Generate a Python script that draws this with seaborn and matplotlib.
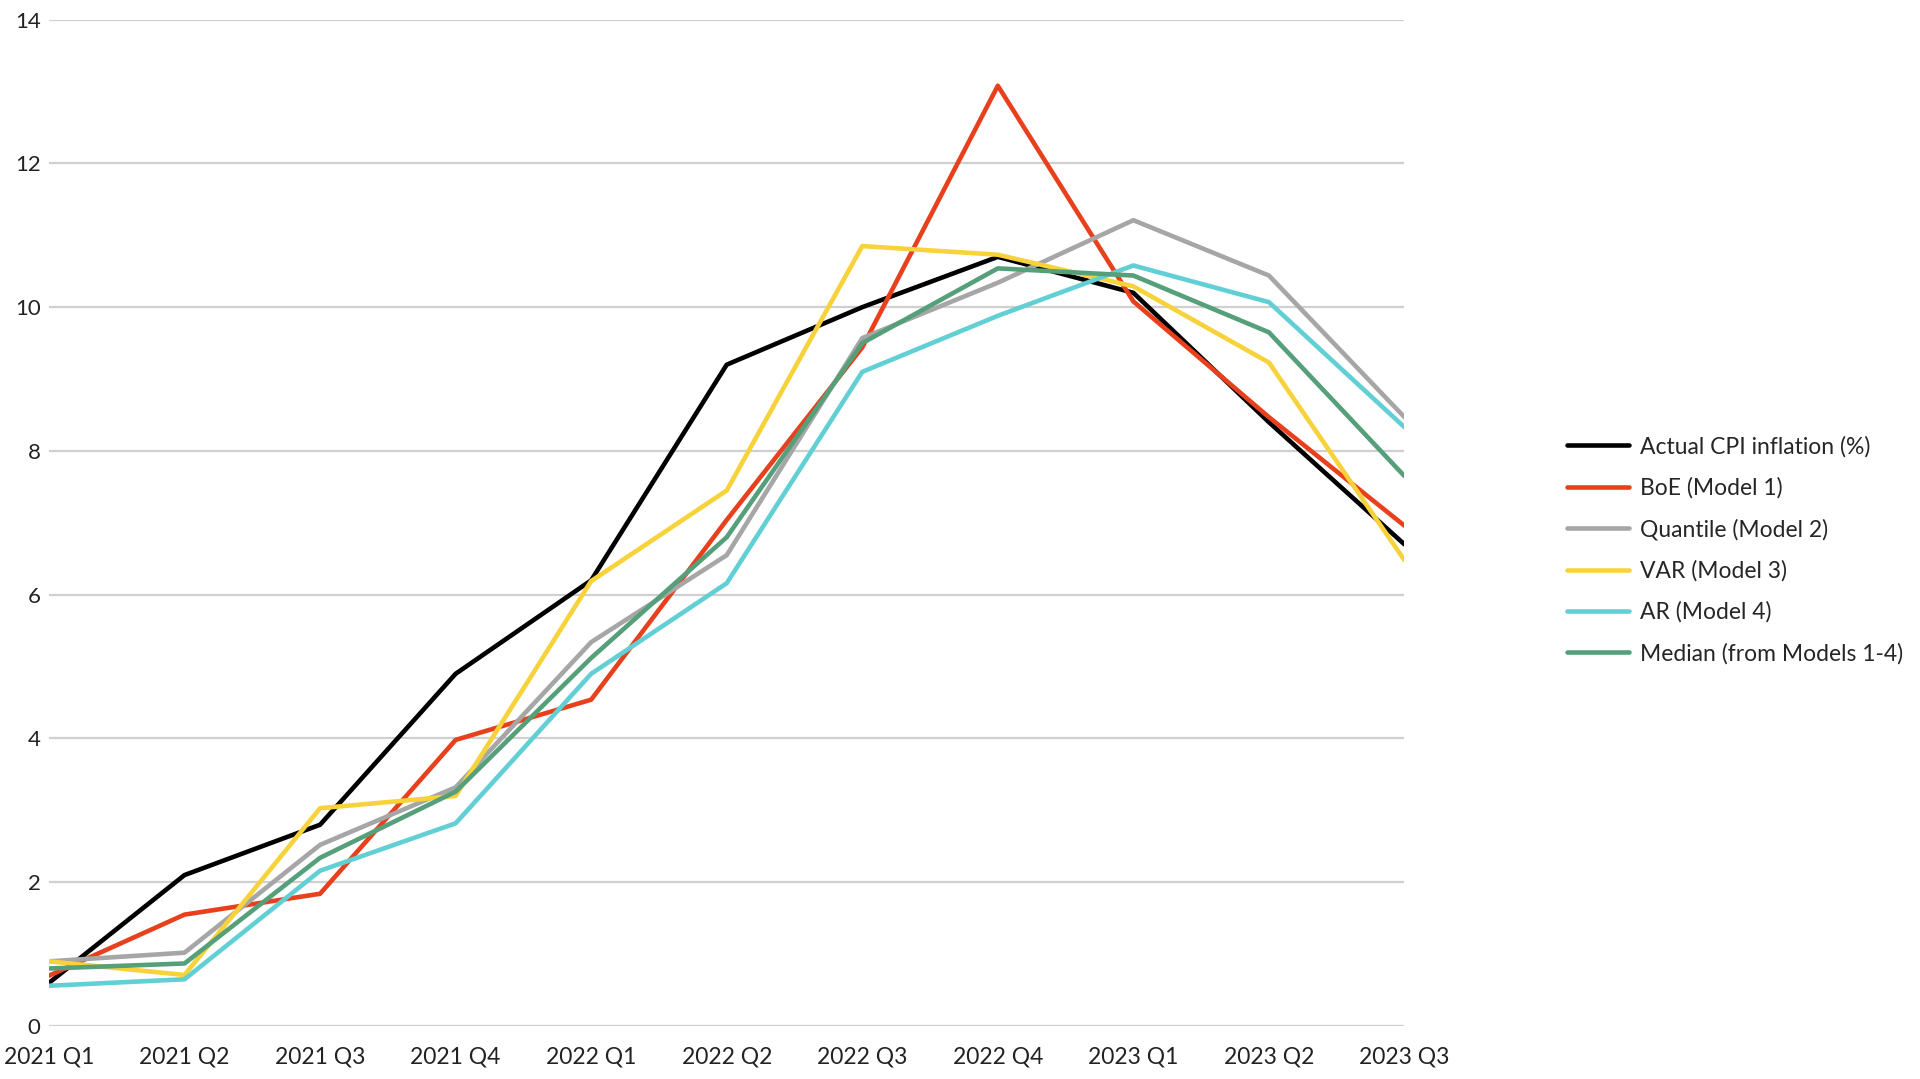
import pandas as pd
import seaborn as sns
import matplotlib.pyplot as plt

quarters = ['2021 Q1', '2021 Q2', '2021 Q3', '2021 Q4', '2022 Q1', '2022 Q2',
            '2022 Q3', '2022 Q4', '2023 Q1', '2023 Q2', '2023 Q3']

actual = [0.6, 2.1, 2.8, 4.9, 6.2, 9.2, 10.0, 10.7, 10.2, 8.4, 6.7]
boe = [0.7, 1.55, 1.84, 3.98, 4.54, 7.04, 9.44, 13.08, 10.08, 8.47, 6.96]
quantile = [0.9, 1.02, 2.52, 3.32, 5.34, 6.55, 9.57, 10.34, 11.21, 10.44, 8.47]
var = [0.9, 0.71, 3.03, 3.2, 6.19, 7.45, 10.85, 10.73, 10.29, 9.23, 6.48]
ar = [0.56, 0.65, 2.16, 2.82, 4.9, 6.16, 9.1, 9.88, 10.58, 10.07, 8.33]
median = [0.8, 0.87, 2.34, 3.26, 5.12, 6.8, 9.5, 10.54, 10.44, 9.65, 7.65]

labels = ['Actual CPI inflation (%)', 'BoE (Model 1)', 'Quantile (Model 2)',
          'VAR (Model 3)', 'AR (Model 4)', 'Median (from Models 1-4)']
colors = ['#000000', '#E8401C', '#A6A6A6', '#F8D23A', '#62CFD4', '#55A07A']

series = [actual, boe, quantile, var, ar, median]
rows = []
for lab, vals in zip(labels, series):
    for i, v in enumerate(vals):
        rows.append({'pos': i, 'quarter': quarters[i], 'series': lab, 'value': v})
df = pd.DataFrame(rows)

sns.set_style('white')
plt.rcParams['font.family'] = ['Lato', 'DejaVu Sans']

fig = plt.figure(figsize=(19.2, 10.79), dpi=100)
ax = fig.add_axes([0.0255, 0.0491, 0.706, 0.9327])

sns.lineplot(data=df, x='pos', y='value', hue='series', hue_order=labels,
             palette=colors, linewidth=3.3, ax=ax, sort=False)

ax.set_xlim(0, 10)
ax.set_ylim(0, 14)
ax.set_yticks(range(0, 15, 2))
ax.set_xticks(range(len(quarters)))
ax.set_xticklabels(quarters)
ax.set_xlabel('')
ax.set_ylabel('')
ax.grid(axis='y', color='#D0D0D0', linewidth=1.6)
ax.grid(axis='x', visible=False)
ax.set_axisbelow(True)
for s in ax.spines.values():
    s.set_visible(False)
ax.tick_params(axis='y', labelsize=16, colors='#222222', pad=6, length=0)
ax.tick_params(axis='x', labelsize=16.5, colors='#222222', pad=15, length=0)

ax.legend(loc='center left', bbox_to_anchor=(1.105, 0.473), frameon=False,
          fontsize=16.5, handlelength=2.7, handletextpad=0.45, labelspacing=0.87)
for line in ax.get_legend().get_lines():
    line.set_linewidth(3.3)

fig.savefig('out.png', dpi=100)
